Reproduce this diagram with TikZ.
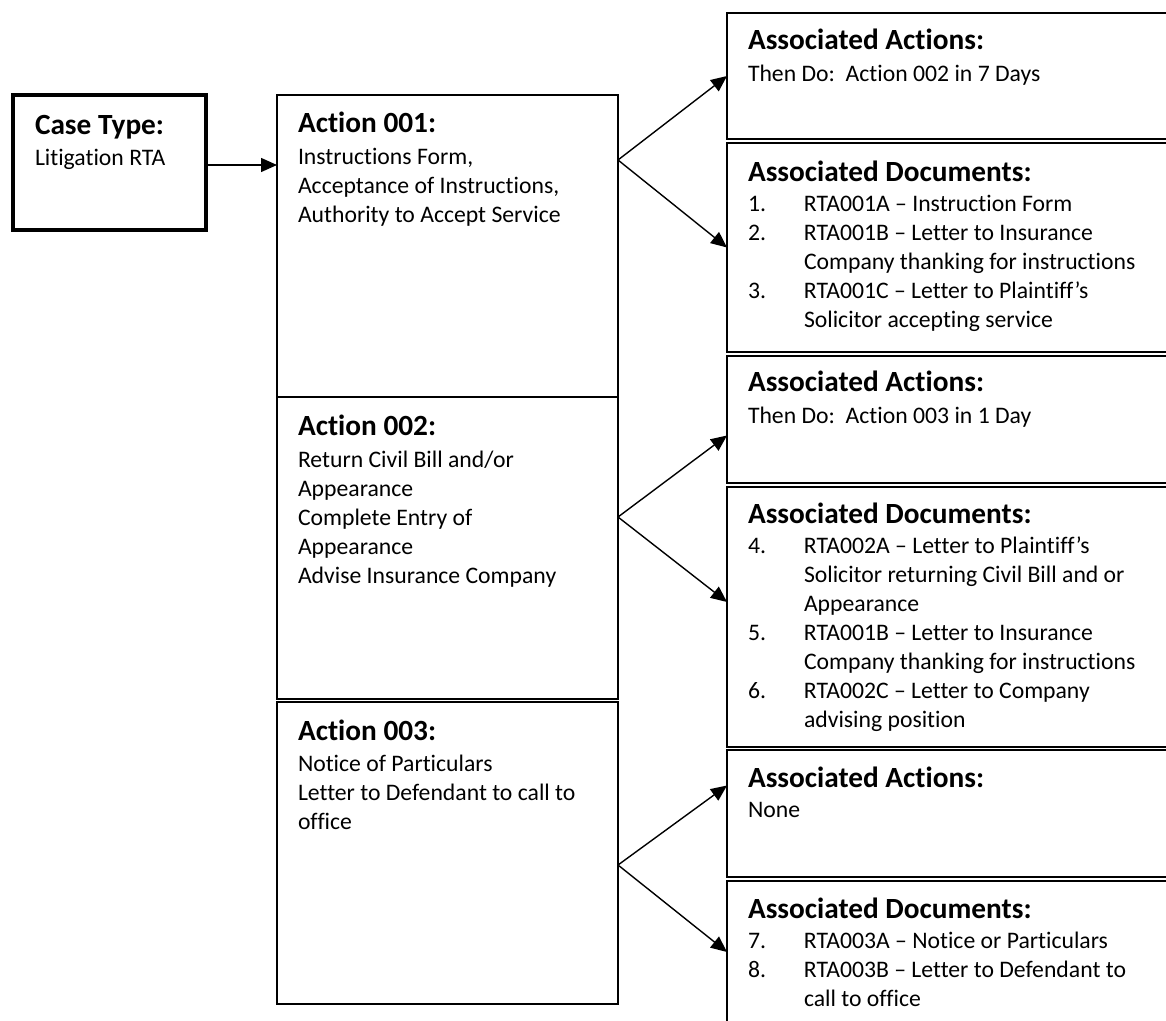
\documentclass[tikz,border=0pt]{standalone}
\usepackage{fontspec}
\setmainfont{Carlito}[Ligatures={NoCommon,TeX}]
\usetikzlibrary{arrows.meta,positioning}

\newcommand{\hdfont}{\fontsize{14.65pt}{17pt}\selectfont\bfseries}
\newcommand{\bdfont}{\fontsize{11.85pt}{14.5pt}\selectfont}
\newcommand{\txtlines}[1]{\parbox[t]{220pt}{\raggedright #1}}
\newcommand{\docnum}[1]{\makebox[28pt][l]{#1}}
\newcommand{\docgap}{\hspace*{28pt}}

\begin{document}
\begin{tikzpicture}[x=0.5pt,y=-0.5pt,
  every node/.style={inner sep=0pt,outer sep=0pt},
  casebox/.style={draw,line width=1.75pt,anchor=north west,minimum width=96.5pt,minimum height=67.5pt},
  actbox/.style={draw,line width=1.3pt,anchor=north west,minimum width=170.5pt,minimum height=151pt},
  infobox/.style={draw,line width=0.8pt,anchor=north west,minimum width=224pt},
  hd/.style={font=\hdfont,anchor=base west},
  bd/.style={font=\bdfont,anchor=base west},
  link/.style={line width=0.7pt,-{Triangle[length=8pt,width=7pt]}}]
  \useasboundingbox (0,0) rectangle (1166,1021);

  % left column
  \node[casebox] (case) at (13,95) {};
  \node[actbox] (act1) at (277,95) {};
  \node[actbox] (act2) at (277,397) {};
  \node[actbox] (act3) at (277,702) {};

  % right column
  \foreach \nm/\yy/\hh in {aa1/13/63pt,ad1/143/104.5pt,aa2/356/63.5pt,ad2/487/130pt,aa3/750/63.5pt,ad3/881/80pt}{
    \node[infobox,minimum height=\hh] (\nm) at (727,\yy) {};
  }

  % texts of the left column
  \node[hd] (caseh) at ([xshift=11pt,yshift=-20pt]case.north west) {Case Type:};
  \node[bd] (caseb) at ([yshift=-15.5pt]caseh.base west) {Litigation RTA};
  \node[hd] (act1h) at ([xshift=10.5pt,yshift=-19pt]act1.north west) {Action 001:};
  \node[bd] (act1b) at ([yshift=-16pt]act1h.base west) {\txtlines{Instructions Form,\\Acceptance of Instructions,\\Authority to Accept Service}};
  \node[hd] (act2h) at ([xshift=10.5pt,yshift=-19pt]act2.north west) {Action 002:};
  \node[bd] (act2b) at ([yshift=-16pt]act2h.base west) {\txtlines{Return Civil Bill and/or\\Appearance\\Complete Entry of\\Appearance\\Advise Insurance Company}};
  \node[hd] (act3h) at ([xshift=10.5pt,yshift=-19pt]act3.north west) {Action 003:};
  \node[bd] (act3b) at ([yshift=-15.5pt]act3h.base west) {\txtlines{Notice of Particulars\\Letter to Defendant to call to\\office}};

  % texts of the right column
  \node[hd] (aa1h) at ([xshift=10.5pt,yshift=-18.5pt]aa1.north west) {Associated Actions:};
  \node[bd] (aa1b) at ([yshift=-16pt]aa1h.base west) {Then Do:\ \ Action 002 in 7 Days};
  \node[hd] (ad1h) at ([xshift=10.5pt,yshift=-19.5pt]ad1.north west) {Associated Documents:};
  \node[bd] (ad1b) at ([yshift=-15pt]ad1h.base west) {\txtlines{%
    \docnum{1.}RTA001A – Instruction Form\\
    \docnum{2.}RTA001B – Letter to Insurance\\
    \docgap Company thanking for instructions\\
    \docnum{3.}RTA001C – Letter to Plaintiff’s\\
    \docgap Solicitor accepting service}};
  \node[hd] (aa2h) at ([xshift=10.5pt,yshift=-18pt]aa2.north west) {Associated Actions:};
  \node[bd] (aa2b) at ([yshift=-15.5pt]aa2h.base west) {Then Do:\ \ Action 003 in 1 Day};
  \node[hd] (ad2h) at ([xshift=10.5pt,yshift=-18pt]ad2.north west) {Associated Documents:};
  \node[bd] (ad2b) at ([yshift=-15pt]ad2h.base west) {\txtlines{%
    \docnum{4.}RTA002A – Letter to Plaintiff’s\\
    \docgap Solicitor returning Civil Bill and or\\
    \docgap Appearance\\
    \docnum{5.}RTA001B – Letter to Insurance\\
    \docgap Company thanking for instructions\\
    \docnum{6.}RTA002C – Letter to Company\\
    \docgap advising position}};
  \node[hd] (aa3h) at ([xshift=10.5pt,yshift=-18.5pt]aa3.north west) {Associated Actions:};
  \node[bd] (aa3b) at ([yshift=-15pt]aa3h.base west) {None};
  \node[hd] (ad3h) at ([xshift=10.5pt,yshift=-18.5pt]ad3.north west) {Associated Documents:};
  \node[bd] (ad3b) at ([yshift=-15pt]ad3h.base west) {\txtlines{%
    \docnum{7.}RTA003A – Notice or Particulars\\
    \docnum{8.}RTA003B – Letter to Defendant to\\
    \docgap call to office}};

  % connectors
  \coordinate (fork1) at (618,160);
  \coordinate (fork2) at (618,517);
  \coordinate (fork3) at (618,865);
  \draw[link] ([yshift=-1.25pt]case.east) -- ([yshift=-1.25pt]case.east -| act1.west);
  \draw[link] (fork1) -- (aa1.west);
  \draw[link] (fork1) -- (ad1.west);
  \draw[link] (fork2) -- ([yshift=-8pt]aa2.west);
  \draw[link] (fork2) -- ([yshift=7.5pt]ad2.west);
  \draw[link] (fork3) -- ([yshift=14pt]aa3.west);
  \draw[link] (fork3) -- ([yshift=4.5pt]ad3.west);
\end{tikzpicture}
\end{document}
